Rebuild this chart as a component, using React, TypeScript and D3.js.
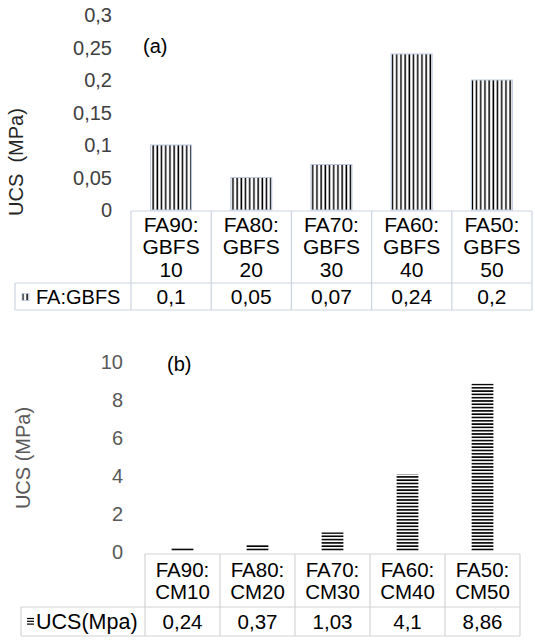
import { useEffect, useRef } from "react";
import * as d3 from "d3";

// panel (a): FA:GBFS
const categoriesA = [
  ["FA90:", "GBFS", "10"],
  ["FA80:", "GBFS", "20"],
  ["FA70:", "GBFS", "30"],
  ["FA60:", "GBFS", "40"],
  ["FA50:", "GBFS", "50"],
];
const valuesA = [0.1, 0.05, 0.07, 0.24, 0.2];
const ticksA = [0, 0.05, 0.1, 0.15, 0.2, 0.25, 0.3];
const seriesA = "FA:GBFS";

// panel (b): FA:CM
const categoriesB = [
  ["FA90:", "CM10"],
  ["FA80:", "CM20"],
  ["FA70:", "CM30"],
  ["FA60:", "CM40"],
  ["FA50:", "CM50"],
];
const valuesB = [0.24, 0.37, 1.03, 4.1, 8.86];
const ticksB = [0, 2, 4, 6, 8, 10];
const seriesB = "UCS(Mpa)";

const FONT = "'Liberation Sans', Arial, sans-serif";
const fmt = d3
  .formatLocale({ decimal: ",", thousands: ".", grouping: [3], currency: ["", ""] })
  .format("~g");

interface Panel {
  label: string;
  title: string;
  titleX: number;
  titleY: number;
  titleColor: string;
  categories: string[][];
  values: number[];
  ticks: number[];
  series: string;
  yDomain: [number, number];
  yRange: [number, number];
  xRange: [number, number];
  barRatio: number;
  tickX: number;
  tickColor: string;
  labelX: number;
  labelY: number;
  tableTop: number;
  tableMid: number;
  tableBottom: number;
  legendLeft: number;
  lineStep: number;
  catSize: number;
  gridColor: string;
  vertical: boolean;
}

const panels: Panel[] = [
  {
    label: "(a)", title: "UCS  (MPa)", titleX: 16, titleY: 162, titleColor: "#262626",
    categories: categoriesA, values: valuesA, ticks: ticksA, series: seriesA,
    yDomain: [0, 0.3], yRange: [210, 15], xRange: [131, 532], barRatio: 0.51,
    tickX: 112, tickColor: "#404040", labelX: 143, labelY: 46,
    tableTop: 211, tableMid: 283, tableBottom: 310, legendLeft: 15, lineStep: 22.5,
    catSize: 21, gridColor: "#cbd4e2", vertical: true,
  },
  {
    label: "(b)", title: "UCS (MPa)", titleX: 23, titleY: 458, titleColor: "#595959",
    categories: categoriesB, values: valuesB, ticks: ticksB, series: seriesB,
    yDomain: [0, 10], yRange: [552, 362], xRange: [145, 520], barRatio: 0.29,
    tickX: 123, tickColor: "#595959", labelX: 167, labelY: 364,
    tableTop: 554, tableMid: 607, tableBottom: 636, legendLeft: 21, lineStep: 22,
    catSize: 20.5, gridColor: "#d4d4d4", vertical: false,
  },
];

const App = () => {
  const ref = useRef<SVGSVGElement | null>(null);

  useEffect(() => {
    if (!ref.current) return;
    const svg = d3.select(ref.current);
    svg.selectAll("*").remove();

    const defs = svg.append("defs");
    // vertical stripes
    const pv = defs.append("pattern").attr("id", "stripeV")
      .attr("patternUnits", "userSpaceOnUse").attr("width", 4.2).attr("height", 10);
    pv.append("rect").attr("width", 4.2).attr("height", 10).attr("fill", "#fff");
    pv.append("rect").attr("x", 1.2).attr("width", 1.5).attr("height", 10).attr("fill", "#000");
    // horizontal stripes
    const ph = defs.append("pattern").attr("id", "stripeH")
      .attr("patternUnits", "userSpaceOnUse").attr("width", 10).attr("height", 3.3);
    ph.append("rect").attr("width", 10).attr("height", 3.3).attr("fill", "#fff");
    ph.append("rect").attr("y", 0.9).attr("width", 10).attr("height", 1.6).attr("fill", "#000");

    panels.forEach(p => {
      const g = svg.append("g").attr("font-family", FONT);

      const x = d3.scaleBand<number>()
        .domain(d3.range(p.values.length))
        .range(p.xRange)
        .padding(0);
      const y = d3.scaleLinear().domain(p.yDomain).range(p.yRange);
      const bw = x.bandwidth() * p.barRatio;

      // y tick labels
      g.append("g").selectAll("text").data(p.ticks).join("text")
        .attr("x", p.tickX).attr("y", d => y(d)).attr("dy", "0.35em")
        .attr("text-anchor", "end").attr("font-size", 20).attr("fill", p.tickColor)
        .text(d => fmt(d));

      // y title
      g.append("text")
        .attr("transform", `translate(${p.titleX},${p.titleY}) rotate(-90)`)
        .attr("text-anchor", "middle").attr("dy", "0.35em")
        .attr("font-size", 20).attr("fill", p.titleColor)
        .style("white-space", "pre")
        .text(p.title);

      // panel label
      g.append("text").attr("x", p.labelX).attr("y", p.labelY).attr("dy", "0.35em")
        .attr("font-size", 20).attr("fill", "#000").text(p.label);

      // bars
      g.append("g").selectAll("rect").data(p.values).join("rect")
        .attr("x", (_, i) => x(i)! + (x.bandwidth() - bw) / 2)
        .attr("y", d => y(d))
        .attr("width", bw)
        .attr("height", d => y(0) - y(d))
        .attr("fill", p.vertical ? "url(#stripeV)" : "url(#stripeH)")
        .attr("stroke", p.vertical ? "#b8c7df" : "none")
        .attr("stroke-width", 1);

      // data table grid
      const grid = g.append("g").attr("stroke", p.gridColor).attr("stroke-width", 1.2).attr("fill", "none");
      const [x0, x1] = p.xRange;
      grid.append("line").attr("x1", x0).attr("x2", x1).attr("y1", p.tableTop).attr("y2", p.tableTop);
      grid.append("line").attr("x1", p.legendLeft).attr("x2", x1).attr("y1", p.tableMid).attr("y2", p.tableMid);
      grid.append("line").attr("x1", p.legendLeft).attr("x2", x1).attr("y1", p.tableBottom).attr("y2", p.tableBottom);
      grid.append("line").attr("x1", p.legendLeft).attr("x2", p.legendLeft).attr("y1", p.tableMid).attr("y2", p.tableBottom);
      grid.selectAll("line.col").data(d3.range(p.values.length + 1)).join("line")
        .attr("class", "col")
        .attr("x1", i => (i < p.values.length ? x(i)! : x1))
        .attr("x2", i => (i < p.values.length ? x(i)! : x1))
        .attr("y1", p.tableTop).attr("y2", p.tableBottom);

      // category labels
      const catMid = (p.tableTop + p.tableMid) / 2;
      p.categories.forEach((lines, i) => {
        const cx = x(i)! + x.bandwidth() / 2;
        const first = catMid - ((lines.length - 1) * p.lineStep) / 2;
        g.append("g").selectAll("text").data(lines).join("text")
          .attr("x", cx).attr("y", (_, k) => first + k * p.lineStep).attr("dy", "0.35em")
          .attr("text-anchor", "middle").attr("font-size", p.catSize).attr("fill", "#000")
          .text(d => d);
      });

      // value row
      const rowMid = (p.tableMid + p.tableBottom) / 2;
      g.append("g").selectAll("text").data(p.values).join("text")
        .attr("x", (_, i) => x(i)! + x.bandwidth() / 2).attr("y", rowMid).attr("dy", "0.35em")
        .attr("text-anchor", "middle").attr("font-size", p.catSize).attr("fill", "#000")
        .text(d => fmt(d));

      // legend key + series name
      if (p.vertical) {
        g.append("rect").attr("x", p.legendLeft + 7).attr("y", rowMid - 3)
          .attr("width", 7).attr("height", 7)
          .attr("fill", "url(#stripeV)").attr("stroke", "#b8c7df").attr("stroke-width", 0.8);
      } else {
        g.append("g").selectAll("line").data(d3.range(3)).join("line")
          .attr("x1", p.legendLeft + 6).attr("x2", p.legendLeft + 13)
          .attr("y1", k => rowMid - 3 + k * 2.8).attr("y2", k => rowMid - 3 + k * 2.8)
          .attr("stroke", "#000").attr("stroke-width", 1.2);
      }
      g.append("text").attr("x", p.legendLeft + (p.vertical ? 21 : 15)).attr("y", rowMid).attr("dy", "0.35em")
        .attr("font-size", p.vertical ? 20 : 21.5).attr("fill", "#000").text(p.series);
    });
  }, []);

  return (
    <svg
      ref={ref}
      width={535}
      height={640}
      style={{ position: "absolute", left: 0, top: 0, background: "#fff" }}
    />
  );
};

export default App;
